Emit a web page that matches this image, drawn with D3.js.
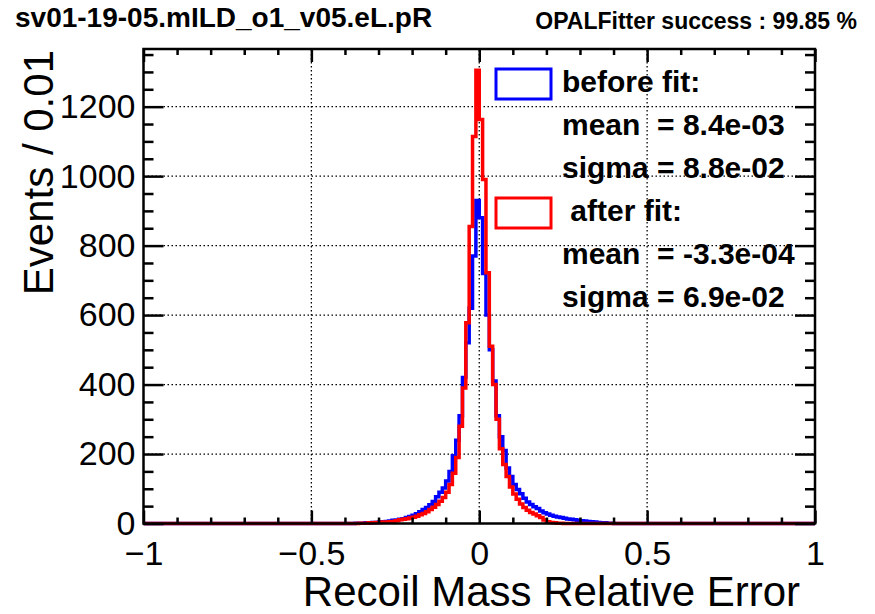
<!DOCTYPE html>
<html>
<head>
<meta charset="utf-8">
<script src="https://cdn.jsdelivr.net/npm/d3@7"></script>
<style>
  body { margin: 0; background: #fff; }
  svg { font-family: "Liberation Sans", Arial, Helvetica, sans-serif; }
  .lbl { white-space: pre; }
</style>
</head>
<body>
<div id="chart"></div>
<script>
// histogram bins: 0.01 wide, lower edges from -0.40 to 0.39 (outside: empty)
const binStart = -0.40;
const binWidth = 0.01;

// before fit (blue)
const beforeFit = [
  0, 0, 0, 1, 1, 1, 2, 2, 3, 3,
  4, 5, 6, 7, 9, 10, 12, 14, 17, 20,
  24, 28, 34, 40, 46, 54, 63, 77, 90, 102,
  122, 150, 195, 240, 310, 420, 520, 620, 770, 930,
  880, 720, 600, 500, 410, 310, 250, 210, 160, 135,
  112, 98, 86, 73, 62, 55, 48, 43, 36, 31,
  27, 24, 21, 19, 17, 15, 13, 12, 11, 9,
  8, 7, 6, 5, 4, 3, 2, 2, 1, 1
];

// after fit (red)
const afterFit = [
  0, 0, 0, 0, 1, 1, 1, 2, 2, 3,
  3, 4, 4, 5, 6, 8, 11, 12, 14, 16,
  18, 21, 25, 29, 34, 40, 47, 55, 64, 75,
  90, 112, 145, 190, 280, 390, 578, 855, 1114, 1305,
  1163, 990, 722, 510, 400, 300, 215, 170, 135, 105,
  85, 70, 56, 46, 38, 32, 27, 22, 17, 10,
  5, 3, 2, 1, 1, 0, 0, 0, 0, 0,
  0, 0, 0, 0, 0, 0, 0, 0, 0, 0
];

const xDomain = [-1, 1];
const yDomain = [0, 1366];
const xMajor = [-1, -0.5, 0, 0.5, 1];
const xTickLabels = ["\u22121", "\u22120.5", "0", "0.5", "1"];
const xMinor = [-0.9, -0.8, -0.7, -0.6, -0.4, -0.3, -0.2, -0.1, 0.1, 0.2, 0.3, 0.4, 0.6, 0.7, 0.8, 0.9];
const yMajor = [0, 200, 400, 600, 800, 1000, 1200];
const yMinor = [50, 100, 150, 250, 300, 350, 450, 500, 550, 650, 700, 750, 850, 900, 950, 1050, 1100, 1150, 1250, 1300, 1350];

const legendRows = [
  {text: "before fit:", color: "#0000ff", box: true},
  {text: "mean  = 8.4e-03"},
  {text: "sigma = 8.8e-02"},
  {text: " after fit:", color: "#ff0000", box: true},
  {text: "mean  = -3.3e-04"},
  {text: "sigma = 6.9e-02"}
];

const width = 875, height = 614;
const margin = {top: 49, right: 60, bottom: 90.5, left: 143.5};

let svg = d3.select("#chart").append("svg")
    .attr("width", width)
    .attr("height", height);

let x = d3.scaleLinear().domain(xDomain).range([margin.left, width - margin.right]);
let y = d3.scaleLinear().domain(yDomain).range([height - margin.bottom, margin.top]);

//titles on top
svg.append("text")
    .attr("x", 15).attr("y", 27)
    .attr("font-size", 28).attr("font-weight", "bold")
    .text("sv01-19-05.mILD_o1_v05.eL.pR");
svg.append("text")
    .attr("x", 857).attr("y", 29)
    .attr("text-anchor", "end")
    .attr("font-size", 23).attr("font-weight", "bold")
    .text("OPALFitter success : 99.85 %");

//dotted grid at the major ticks
let grid = svg.append("g").attr("stroke", "#000").attr("stroke-width", 1.3)
    .attr("stroke-dasharray", "1.5,2.5");
grid.selectAll(".gx").data(xMajor.slice(1, -1)).enter().append("line")
    .attr("x1", d => x(d)).attr("x2", d => x(d))
    .attr("y1", y.range()[0]).attr("y2", y.range()[1]);
grid.selectAll(".gy").data(yMajor.slice(1)).enter().append("line")
    .attr("y1", d => y(d)).attr("y2", d => y(d))
    .attr("x1", x.range()[0]).attr("x2", x.range()[1]);

//step outline of a histogram, from -1 to 1 along zero
function histPath(values){
    let p = d3.path();
    p.moveTo(x(xDomain[0]), y(0));
    values.forEach(function(v, i){
        let lo = binStart + i * binWidth;
        p.lineTo(x(lo), y(v));
        p.lineTo(x(lo + binWidth), y(v));
    });
    p.lineTo(x(binStart + values.length * binWidth), y(0));
    p.lineTo(x(xDomain[1]), y(0));
    return p.toString();
}

svg.append("path")
    .attr("d", histPath(beforeFit))
    .attr("fill", "none").attr("stroke", "#0000ff").attr("stroke-width", 3.5)
    .attr("stroke-linejoin", "miter");
svg.append("path")
    .attr("d", histPath(afterFit))
    .attr("fill", "none").attr("stroke", "#ff0000").attr("stroke-width", 3.5)
    .attr("stroke-linejoin", "miter");

//axes, ticks point inwards on all four sides
function styleAxis(g, fontSize){
    g.select(".domain").remove();
    g.selectAll(".tick line").attr("stroke", "#000").attr("stroke-width", 2.5);
    g.selectAll(".tick text").attr("fill", "#000").attr("font-size", fontSize)
        .attr("font-family", "Liberation Sans, Arial, sans-serif");
}
let yb = y.range()[0], yt = y.range()[1], xl = x.range()[0], xr = x.range()[1];

svg.append("g").attr("transform", `translate(0,${yb})`)
    .call(d3.axisBottom(x).tickValues(xMajor).tickSize(-13).tickPadding(17)
        .tickFormat((d, i) => xTickLabels[i]))
    .call(g => styleAxis(g, 34));
svg.append("g").attr("transform", `translate(0,${yb})`)
    .call(d3.axisBottom(x).tickValues(xMinor).tickSize(-6).tickFormat(""))
    .call(g => styleAxis(g, 0));
svg.append("g").attr("transform", `translate(0,${yt})`)
    .call(d3.axisTop(x).tickValues(xMajor).tickSize(-13).tickFormat(""))
    .call(g => styleAxis(g, 0));
svg.append("g").attr("transform", `translate(0,${yt})`)
    .call(d3.axisTop(x).tickValues(xMinor).tickSize(-6).tickFormat(""))
    .call(g => styleAxis(g, 0));

svg.append("g").attr("transform", `translate(${xl},0)`)
    .call(d3.axisLeft(y).tickValues(yMajor).tickSize(-20).tickPadding(8)
        .tickFormat(d3.format("d")))
    .call(g => styleAxis(g, 34));
svg.append("g").attr("transform", `translate(${xl},0)`)
    .call(d3.axisLeft(y).tickValues(yMinor).tickSize(-10).tickFormat(""))
    .call(g => styleAxis(g, 0));
svg.append("g").attr("transform", `translate(${xr},0)`)
    .call(d3.axisRight(y).tickValues(yMajor).tickSize(-20).tickFormat(""))
    .call(g => styleAxis(g, 0));
svg.append("g").attr("transform", `translate(${xr},0)`)
    .call(d3.axisRight(y).tickValues(yMinor).tickSize(-10).tickFormat(""))
    .call(g => styleAxis(g, 0));

//frame
svg.append("rect")
    .attr("x", xl).attr("y", yt)
    .attr("width", xr - xl).attr("height", yb - yt)
    .attr("fill", "none").attr("stroke", "#000").attr("stroke-width", 2.5);

//axis titles
svg.append("text")
    .attr("x", 800).attr("y", 606)
    .attr("text-anchor", "end").attr("font-size", 42)
    .text("Recoil Mass Relative Error");
svg.append("text")
    .attr("transform", "translate(53,50) rotate(-90)")
    .attr("text-anchor", "end").attr("font-size", 42)
    .text("Events / 0.01");

//legend, no border, grid shows through
let legend = svg.append("g");
let rowY = d3.scaleLinear().domain([0, legendRows.length - 1]).range([92, 307]);
legend.selectAll(".lbl").data(legendRows).enter().append("text")
    .attr("class", "lbl")
    .attr("x", 562).attr("y", (d, i) => rowY(i))
    .attr("font-size", 30).attr("font-weight", "bold")
    .text(d => d.text);
legend.selectAll(".box").data(legendRows.filter(d => d.box)).enter().append("rect")
    .attr("x", 496).attr("y", d => rowY(legendRows.indexOf(d)) - 23)
    .attr("width", 55).attr("height", 30)
    .attr("fill", "none").attr("stroke", d => d.color).attr("stroke-width", 3);
</script>
</body>
</html>
